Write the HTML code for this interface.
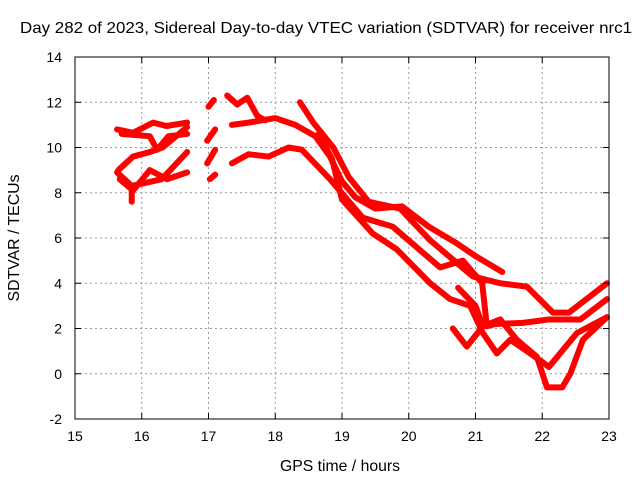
<!DOCTYPE html>
<html><head><meta charset="utf-8"><style>
body{margin:0;background:#fff}
svg{display:block;font-family:"Liberation Sans",sans-serif}
</style></head><body>
<svg id="chart" width="640" height="480">
<text x="326" y="33" font-size="16" text-anchor="middle" textLength="612" lengthAdjust="spacingAndGlyphs">Day 282 of 2023, Sidereal Day-to-day VTEC variation (SDTVAR) for receiver nrc1</text>
<text x="19" y="238" font-size="16" text-anchor="middle" textLength="127" lengthAdjust="spacingAndGlyphs" transform="rotate(-90 19 238)">SDTVAR / TECUs</text>
<text x="340" y="471" font-size="16" text-anchor="middle" textLength="120" lengthAdjust="spacingAndGlyphs">GPS time / hours</text>
<g id="grid"></g><g id="series"></g>
<rect x="75" y="57" width="534" height="362" fill="none" stroke="#000" stroke-width="1"/>
<g id="ticks"></g>
</svg>
<script>
const xTicks=[15,16,17,18,19,20,21,22,23];
const yTicks=[-2,0,2,4,6,8,10,12,14];
const track1=[[15.63,10.8],[15.87,10.65],[16.17,11.1],[16.37,10.95],[16.68,11.1]];
const track2=[[15.7,10.6],[16.12,10.5],[16.23,9.9],[16.4,10.5],[16.68,10.6]];
const track3=[[15.65,9.0],[15.87,9.6],[16.12,9.8],[16.31,10.0],[16.68,10.9]];
const track4=[[15.67,8.6],[15.87,8.1],[16.12,9.0],[16.38,8.6],[16.68,8.9]];
const track5=[[15.63,8.9],[15.85,8.3],[16.0,8.4],[16.3,8.6],[16.68,9.8]];
const track6=[[15.85,8.2],[15.85,7.6]];
const seg1=[[17.0,11.8],[17.08,12.1]];
const seg2=[[16.98,10.3],[17.1,10.8]];
const seg3=[[16.98,9.3],[17.1,9.9]];
const seg4=[[17.02,8.6],[17.1,8.8]];
const track7=[[17.28,12.3],[17.43,11.9],[17.58,12.2],[17.73,11.4],[17.85,11.2]];
const trackA=[[17.35,11.0],[17.6,11.1],[18.0,11.3],[18.3,11.0],[18.6,10.5],[18.82,9.6],[19.0,8.5],[19.2,7.8],[19.5,7.3],[19.9,7.4],[20.3,6.5],[20.7,5.8],[21.0,5.2],[21.4,4.5]];
const trackB=[[18.37,12.0],[18.57,11.1],[18.87,10.0],[19.1,8.7],[19.4,7.6],[19.87,7.3],[20.32,5.9],[20.96,4.3],[21.37,4.0],[21.77,3.85],[22.16,2.7],[22.4,2.7],[22.97,4.0]];
const trackC=[[17.35,9.3],[17.6,9.7],[17.9,9.6],[18.2,10.0],[18.4,9.9],[18.82,8.6],[19.31,6.9],[19.76,6.5],[20.47,4.7],[20.81,5.0],[21.1,4.0],[21.17,2.1],[21.3,2.2],[21.71,2.25],[22.1,2.4],[22.57,2.4],[22.97,3.3]];
const trackD=[[18.65,10.6],[18.85,9.5],[19.0,7.7],[19.46,6.2],[19.82,5.5],[20.32,4.0],[20.62,3.3],[20.92,3.0],[21.11,1.8],[21.32,0.9],[21.52,1.5],[21.82,0.9],[22.01,0.5],[22.1,0.3],[22.52,1.8],[22.97,2.5]];
const trackE=[[20.66,2.0],[20.87,1.2],[21.11,2.1],[21.37,2.4],[21.62,1.5],[21.92,0.75],[22.07,-0.6],[22.3,-0.6],[22.42,0],[22.61,1.5],[22.97,2.5]];
const trackF=[[20.74,3.8],[21.0,3.0],[21.11,2.1]];
const allTracks=[track1,track2,track3,track4,track5,track6,seg1,seg2,seg3,seg4,track7,trackA,trackB,trackC,trackD,trackE,trackF];
const X=h=>75+(h-15)*534/8;
const Y=v=>419-(v+2)*362/16;
const NS="http://www.w3.org/2000/svg";
const grid=document.getElementById('grid'),ticks=document.getElementById('ticks'),ser=document.getElementById('series');
function mk(tag,attrs,parent){const e=document.createElementNS(NS,tag);for(const k in attrs)e.setAttribute(k,attrs[k]);parent.appendChild(e);return e;}
xTicks.forEach(t=>{const x=X(t);
 if(t>15&&t<23){const g=mk('line',{x1:x,x2:x,y1:57,y2:419,stroke:'#999','stroke-dasharray':'2,3'},grid);
 
 }
 mk('line',{x1:x,x2:x,y1:419,y2:413,stroke:'#000'},ticks);mk('line',{x1:x,x2:x,y1:57,y2:63,stroke:'#000'},ticks);
 const l=mk('text',{x:x,y:441,'font-size':14,'text-anchor':'middle'},ticks);l.textContent=t;
 
 });
yTicks.forEach(t=>{const y=Y(t);
 if(t>-2&&t<14){const g=mk('line',{x1:75,x2:609,y1:y,y2:y,stroke:'#999','stroke-dasharray':'2,3'},grid);
 
 }
 mk('line',{x1:75,x2:81,y1:y,y2:y,stroke:'#000'},ticks);mk('line',{x1:603,x2:609,y1:y,y2:y,stroke:'#000'},ticks);
 const l=mk('text',{x:62,y:y+5,'font-size':14,'text-anchor':'end'},ticks);l.textContent=t;
 
 });
allTracks.forEach(tr=>{
 const p=mk('polyline',{points:tr.map(d=>X(d[0])+','+Y(d[1])).join(' '),fill:'none',stroke:'#f00','stroke-width':6,'stroke-linejoin':'round','stroke-linecap':'round'},ser);
 
 
});
</script>
</body></html>
